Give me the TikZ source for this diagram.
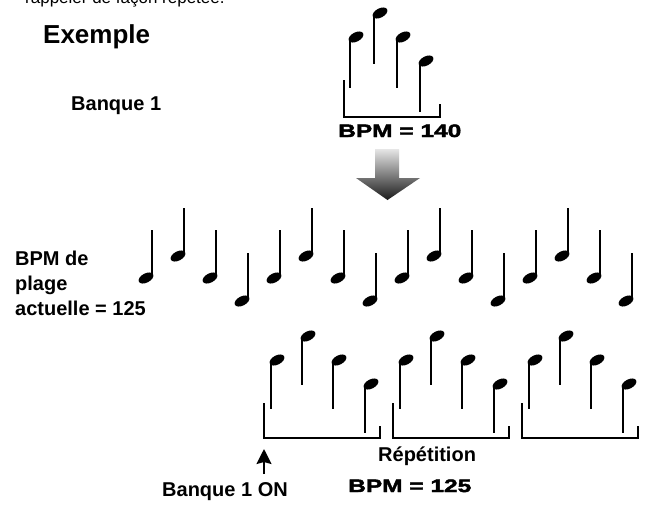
\documentclass[tikz,border=0pt]{standalone}
\usepackage{fontspec}
\setmainfont{Liberation Sans}
\newfontfamily\bpmfont[FakeStretch=1.36,FakeBold=2.4]{Liberation Sans Bold}
\usepackage{tikz}
\usetikzlibrary{arrows.meta}
\tikzset{
  notestem/.style={line width=2.3pt},
  bracketline/.style={line width=1.3pt, line cap=rect},
  lbl/.style={anchor=base west, inner sep=0pt, font=\bfseries\fontsize{20}{25}\selectfont},
  bpmlbl/.style={anchor=base west, inner sep=0pt, font=\bpmfont\fontsize{18}{22}\selectfont},
  onarrow/.style={-{Stealth[length=15pt, width=15pt, inset=2pt]}, line width=2pt},
  % quarter note, stem up, head at the bottom left
  qnote/.pic={
    \draw[notestem] (0,0) -- (0,46);
    \fill[shift={(-6,48)}, rotate=28] (0,0) ellipse (8pt and 4.6pt);
  },
  % note drawn upside down, head at the top right
  fnote/.pic={
    \draw[notestem] (0,1) -- (0,\pgfkeysvalueof{/tikz/stemlen});
    \fill[shift={(6,-1)}, rotate=28] (0,0) ellipse (8pt and 4.6pt);
  },
  stemlen/.initial=48,
}

\begin{document}
\begin{tikzpicture}[x=1pt, y=-1pt]
  \useasboundingbox (0,0) rectangle (653,512);
  \clip (0,0) rectangle (653,512);

  % texts
  \node[anchor=base west, inner sep=0pt, font=\fontsize{17}{20}\selectfont] (intro) at (25,3) {rappeler de façon répétée.};
  \node[lbl, font=\bfseries\fontsize{26}{30}\selectfont] (exemple) at (43,43) {Exemple};
  \node[lbl] (bank) at (71,110) {Banque 1};
  \node[lbl, align=left] (curbpm) at (15,315) {BPM de\\plage\\actuelle = 125};
  \node[bpmlbl] (bpmtop) at (338,137) {BPM = 140};
  \node[lbl] (repeat) at (378,461) {Répétition};
  \node[bpmlbl] (bpmbot) at (348,492) {BPM = 125};
  \node[lbl] (bankon) at (162,496) {Banque 1 ON};

  % bank 1 pattern
  \foreach \x/\h/\l in {350/38/50, 374/14/50, 397/38/50, 420/62/50}
    \pic[stemlen=\l] at (\x,\h) {fnote};
  \draw[bracketline] (344,81) -- (344,117) -- (440,117) -- (440,105);

  % down arrow
  \shade[top color=gray!20, middle color=black!78, bottom color=black!90]
    (375,149) -- (399,149) -- (399,178) -- (420,178) -- (387.5,200) -- (356,178) -- (375,178) -- cycle;

  % track at 125
  \foreach \t [count=\i from 0] in {230,208,230,253,230,208,230,253,230,208,230,253,230,208,230,253}
    \pic at ({152+32*\i},\t) {qnote};

  % pattern repeated
  \foreach \g in {0,129,258} {
    \foreach \x/\h in {271/361, 302/337, 333/361, 365/385}
      \pic at ({\x+\g},\h) {fnote};
    \draw[bracketline] ({264+\g},404) -- ({264+\g},438) -- ({380+\g},438) -- ({380+\g},427);
  }

  \coordinate (onfoot) at (264,474);
  \coordinate (ontip) at (264,449);
  \draw[onarrow] (onfoot) -- (ontip);
\end{tikzpicture}
\end{document}
